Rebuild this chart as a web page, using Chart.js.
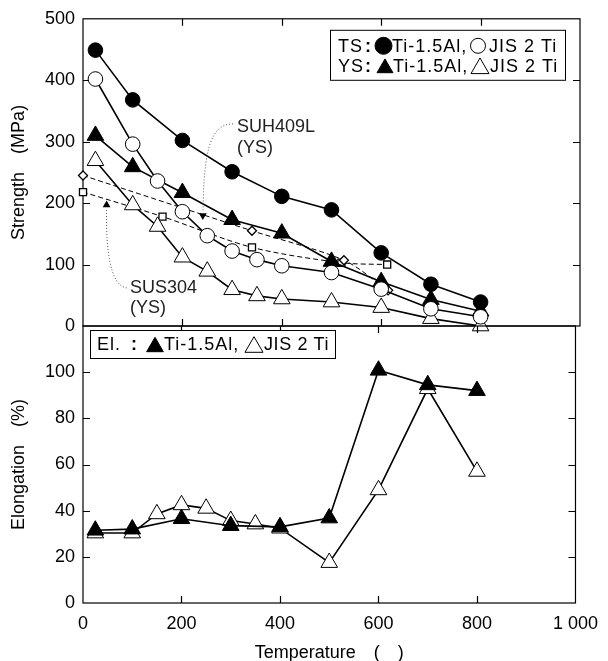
<!DOCTYPE html>
<html>
<head>
<meta charset="utf-8">
<script src="https://cdn.jsdelivr.net/npm/chart.js@4.4.1/dist/chart.umd.min.js"></script>
<style>
    html, body { margin: 0; padding: 0; background: #fff; }
    #wrap { position: relative; width: 608px; height: 661px; }
    #wrap canvas { position: absolute; left: 0; }
    #topChart { top: 0; }
    #botChart { top: 300px; }
</style>
</head>
<body>
<div id="wrap">
    <canvas id="topChart" width="608" height="345"></canvas>
    <canvas id="botChart" width="608" height="361"></canvas>
</div>
<script>
// axis ticks
const xTicks = [0, 200, 400, 600, 800, 1000];
const xTickLabels = ['0', '200', '400', '600', '800', '1 000'];
const strengthTicks = [0, 100, 200, 300, 400, 500];
const elongTicks = [0, 20, 40, 60, 80, 100];

// temperatures (deg C)
const tempTi = [25, 100, 200, 300, 400, 500, 600, 700, 800];
const tempJis = [25, 100, 150, 200, 250, 300, 350, 400, 500, 600, 700, 800];
const tempSuh = [0, 340, 525, 614];
const tempSus = [0, 160, 340, 520, 612];

// strength (MPa)
const tsTi15Al = [449, 368, 302, 251, 211, 189, 119, 68, 39];
const tsJis2 = [402, 296, 236, 186, 147, 122, 108, 98, 87, 60, 28, 15];
const ysTi15Al = [310, 259, 217, 173, 151, 105, 72, 43, 24];
const ysJis2 = [269, 197, 162, 112, 89, 59, 49, 44, 39, 30, 12, 0];
const ysSuh409L = [245, 155, 107, 58];
const ysSus304 = [218, 178, 128, 103, 100];

// arrow tips of the two notes
const arrowTemp = [241, 47.5];
const arrowVal = [180, 197];

// elongation (%)
const elTi15Al = [31.5, 32, 36.5, 33.5, 33, 36.8, 100.8, 94.5, 92];
const elJis2 = [30.3, 30.3, 38.6, 42.5, 41, 35.7, 34.2, 32.4, 17.5, 49, 92.8, 57];

const FONT = '"Liberation Sans", Arial, "Noto Sans CJK JP", sans-serif';
Chart.defaults.font.family = FONT;
Chart.defaults.color = '#000';

function pts(xs, ys) {
    return xs.map((x, i) => ({ x: x, y: ys[i] }));
}

function solid(xs, ys, style, filled, r) {
    return {
        data: pts(xs, ys),
        showLine: true,
        borderColor: '#000',
        borderWidth: 1.6,
        pointStyle: style,
        pointRadius: r,
        pointBorderWidth: 1,
        pointBorderColor: '#000',
        pointBackgroundColor: filled ? '#000' : '#fff',
        clip: false
    };
}

function dashed(xs, ys, style, r) {
    return {
        data: pts(xs, ys),
        showLine: true,
        borderColor: '#000',
        borderWidth: 1,
        borderDash: [5, 3],
        tension: 0.3,
        pointStyle: style,
        pointRadius: r,
        pointBorderWidth: 1.3,
        pointBorderColor: '#000',
        pointBackgroundColor: '#fff',
        clip: false
    };
}

// frame with inward ticks on all four sides
const framePlugin = {
    id: 'frame',
    beforeDatasetsDraw(chart, args, opts) {
        const { ctx, chartArea: a, scales: { x, y } } = chart;
        ctx.save();
        ctx.strokeStyle = '#000';
        ctx.lineWidth = 1.2;
        ctx.strokeRect(a.left, a.top, a.right - a.left, a.bottom - a.top);
        ctx.beginPath();
        xTicks.slice(1, -1).forEach(v => {
            const px = Math.round(x.getPixelForValue(v)) + 0.5;
            ctx.moveTo(px, a.top); ctx.lineTo(px, a.top + 7);
            ctx.moveTo(px, a.bottom); ctx.lineTo(px, a.bottom - 7);
        });
        opts.yTicks.forEach(v => {
            if (v <= y.min || v >= y.max) return;
            const py = Math.round(y.getPixelForValue(v)) + 0.5;
            ctx.moveTo(a.left, py); ctx.lineTo(a.left + 7, py);
            ctx.moveTo(a.right, py); ctx.lineTo(a.right - 7, py);
        });
        ctx.stroke();
        ctx.restore();
    }
};

function marker(ctx, style, filled, r, cx, cy, lw) {
    ctx.fillStyle = filled ? '#000' : '#fff';
    ctx.strokeStyle = '#000';
    const yy = style === 'triangle' ? cy + r / 4 : cy;
    Chart.helpers.drawPoint(ctx, { pointStyle: style, radius: r, rotation: 0, borderWidth: lw }, cx, yy);
}

// a legend row: list of text pieces and marker glyphs
function legendRow(ctx, x0, cy, items) {
    items.forEach(it => {
        if (it.text) {
            ctx.font = (it.bold ? 'bold ' : '') + '18px ' + FONT;
            ctx.letterSpacing = (it.ls === undefined ? 1 : it.ls) + 'px';
            ctx.fillStyle = '#000';
            ctx.textBaseline = 'middle';
            ctx.textAlign = 'left';
            ctx.fillText(it.text, x0 + it.dx, cy + 1);
            ctx.letterSpacing = '0px';
        } else {
            marker(ctx, it.style, it.filled, it.r, x0 + it.dx, cy, 1);
        }
    });
}

const topNotes = {
    id: 'topNotes',
    afterDatasetsDraw(chart) {
        const { ctx, chartArea: a, scales: { x, y } } = chart;
        const P = (t, v) => [x.getPixelForValue(t), y.getPixelForValue(v)];
        ctx.save();

        // dotted leader curves
        ctx.strokeStyle = '#555';
        ctx.lineWidth = 1;
        ctx.setLineDash([1, 2]);
        const curve = (p0, p1, p2, p3) => {
            ctx.beginPath();
            ctx.moveTo(p0[0], p0[1]);
            ctx.bezierCurveTo(p1[0], p1[1], p2[0], p2[1], p3[0], p3[1]);
            ctx.stroke();
        };
        curve(P(302, 329), P(258, 329), P(243, 290), P(241.5, 187));
        curve(P(88, 62), P(54, 66), P(46, 125), P(47.5, 190));
        ctx.setLineDash([]);

        ctx.fillStyle = '#222';
        ctx.font = '18px ' + FONT;
        ctx.textBaseline = 'alphabetic';
        ctx.textAlign = 'left';
        let p = P(310, 316);
        ctx.fillText('SUH409L', p[0], p[1]);
        p = P(310, 282);
        ctx.fillText('(YS)', p[0], p[1]);
        p = P(94.5, 53.5);
        ctx.fillText('SUS304', p[0], p[1]);
        p = P(94.5, 21);
        ctx.fillText('(YS)', p[0], p[1]);

        // legend box
        const bx = a.right - 250, by = a.top + 11;
        ctx.fillStyle = '#fff';
        ctx.fillRect(bx, by, 235, 50);
        ctx.strokeStyle = '#000';
        ctx.lineWidth = 1;
        ctx.strokeRect(bx + 0.5, by + 0.5, 235, 50);
        legendRow(ctx, bx, by + 16, [
            { text: 'TS', dx: 8 },
            { text: ':', dx: 35, bold: true },
            { style: 'circle', filled: true, r: 8.5, dx: 53.5 },
            { text: 'Ti-1.5Al,', dx: 62 },
            { style: 'circle', filled: false, r: 7.5, dx: 148 },
            { text: 'JIS 2 Ti', dx: 159 }
        ]);
        legendRow(ctx, bx, by + 36, [
            { text: 'YS', dx: 8 },
            { text: ':', dx: 35, bold: true },
            { style: 'triangle', filled: true, r: 9.2, dx: 55 },
            { text: 'Ti-1.5Al,', dx: 63 },
            { style: 'triangle', filled: false, r: 10.4, dx: 150 },
            { text: 'JIS 2 Ti', dx: 160 }
        ]);
        ctx.restore();
    }
};

const botNotes = {
    id: 'botNotes',
    afterDatasetsDraw(chart) {
        const { ctx, chartArea: a } = chart;
        ctx.save();
        const bx = a.left + 7, by = a.top + 4;
        ctx.fillStyle = '#fff';
        ctx.fillRect(bx, by, 245, 28);
        ctx.strokeStyle = '#000';
        ctx.lineWidth = 1;
        ctx.strokeRect(bx + 0.5, by + 0.5, 245, 28);
        legendRow(ctx, bx, by + 14.5, [
            { text: 'El.', dx: 7 },
            { text: ':', dx: 41, bold: true },
            { style: 'triangle', filled: true, r: 9.6, dx: 65 },
            { text: 'Ti-1.5Al,', dx: 74 },
            { style: 'triangle', filled: false, r: 10.4, dx: 164 },
            { text: 'JIS 2 Ti', dx: 174, ls: 0.6 }
        ]);
        ctx.restore();
    }
};

function xAxis(show) {
    return {
        type: 'linear',
        min: 0,
        max: 1000,
        display: show,
        afterBuildTicks: s => { s.ticks = xTicks.map(v => ({ value: v })); },
        afterFit: s => { s.height = show ? 58 : 0; },
        grid: { display: false, drawTicks: false },
        border: { display: false },
        ticks: {
            padding: 10,
            maxRotation: 0,
            autoSkip: false,
            font: { size: 18 },
            callback: (v, i) => xTickLabels[i]
        },
        title: {
            display: show,
            text: 'Temperature\u3000(\u3000)',
            font: { size: 18, lineHeight: 0.9 },
            padding: { top: 0, bottom: 0 }
        }
    };
}

function yAxis(max, ticks, title) {
    return {
        type: 'linear',
        min: 0,
        max: max,
        afterBuildTicks: s => { s.ticks = ticks.map(v => ({ value: v })); },
        afterFit: s => { s.width = 83; },
        grid: { display: false, drawTicks: false },
        border: { display: false },
        ticks: { padding: 8, font: { size: 18 } },
        title: {
            display: true,
            text: title,
            font: { size: 18 },
            padding: { top: 8, bottom: 0 }
        }
    };
}

function loadTopChart() {
    const ctx = document.getElementById('topChart');
    new Chart(ctx, {
        type: 'scatter',
        data: {
            datasets: [
                solid(tempTi, tsTi15Al, 'circle', true, 7.3),
                solid(tempJis, tsJis2, 'circle', false, 7.3),
                solid(tempTi, ysTi15Al, 'triangle', true, 9.6),
                solid(tempJis, ysJis2, 'triangle', false, 9.6),
                dashed(tempSuh, ysSuh409L, 'rectRot', 4.5),
                dashed(tempSus, ysSus304, 'rect', 5),
                {
                    data: [{ x: arrowTemp[0], y: arrowVal[0] }],
                    pointStyle: 'triangle', rotation: 180, pointRadius: 4.5,
                    pointBackgroundColor: '#000', pointBorderColor: '#000', pointBorderWidth: 0
                },
                {
                    data: [{ x: arrowTemp[1], y: arrowVal[1] }],
                    pointStyle: 'triangle', pointRadius: 4.5,
                    pointBackgroundColor: '#000', pointBorderColor: '#000', pointBorderWidth: 0
                }
            ]
        },
        options: {
            responsive: false,
            animation: false,
            devicePixelRatio: 1,
            layout: { padding: { left: 0, right: 28, top: 18, bottom: 19 } },
            plugins: { legend: { display: false }, tooltip: { enabled: false }, frame: { yTicks: strengthTicks } },
            events: [],
            scales: {
                x: xAxis(false),
                y: yAxis(500, strengthTicks, 'Strength\u3000(MPa)')
            }
        },
        plugins: [framePlugin, topNotes]
    });
}

function loadBottomChart() {
    const ctx = document.getElementById('botChart');
    new Chart(ctx, {
        type: 'scatter',
        data: {
            datasets: [
                solid(tempTi, elTi15Al, 'triangle', true, 9.6),
                solid(tempJis, elJis2, 'triangle', false, 9.6)
            ]
        },
        options: {
            responsive: false,
            animation: false,
            devicePixelRatio: 1,
            layout: { padding: { left: 0, right: 28, top: 26, bottom: 0 } },
            plugins: { legend: { display: false }, tooltip: { enabled: false }, frame: { yTicks: elongTicks } },
            events: [],
            scales: {
                x: xAxis(true),
                y: yAxis(120, elongTicks, 'Elongation\u3000(%)')
            }
        },
        plugins: [framePlugin, botNotes]
    });
}

loadTopChart();
loadBottomChart();
</script>
</body>
</html>
